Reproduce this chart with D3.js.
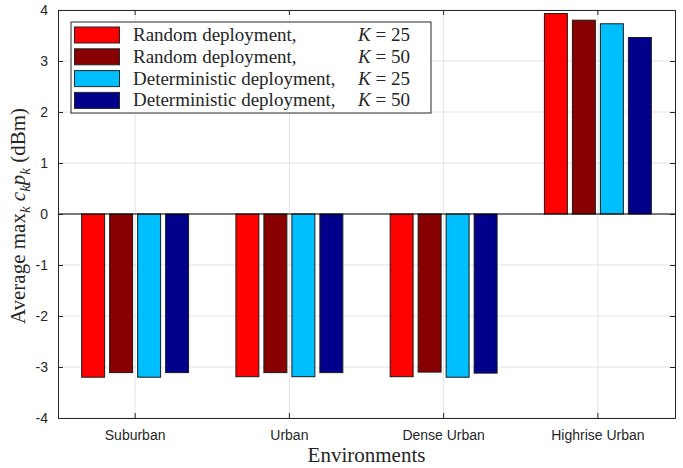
<!DOCTYPE html>
<html>
<head>
<meta charset="utf-8">
<script src="https://cdn.jsdelivr.net/npm/d3@7"></script>
<style>
  body { margin: 0; background: #fff; }
  svg { display: block; }
  .tick text { font-family: "Liberation Sans", Arial, sans-serif; font-size: 14px; fill: #262626; }
  .serif { font-family: "Liberation Serif", "Times New Roman", serif; fill: #262626; }
</style>
</head>
<body>
<div id="chart"></div>
<script>
const WIDTH = 683
const HEIGHT = 468

// data
const environments = ['Suburban', 'Urban', 'Dense Urban', 'Highrise Urban']
const seriesNames = ['Random deployment,', 'Random deployment,', 'Deterministic deployment,', 'Deterministic deployment,']
const seriesK = [25, 50, 25, 50]
const seriesColors = ['#ff0000', '#880000', '#00bfff', '#00008b']
const randomK25 = [-3.20, -3.19, -3.19, 3.93]
const randomK50 = [-3.11, -3.11, -3.10, 3.80]
const detK25 = [-3.20, -3.19, -3.20, 3.73]
const detK50 = [-3.11, -3.11, -3.12, 3.46]
const seriesValues = [randomK25, randomK50, detK25, detK50]
const yTicks = [-4, -3, -2, -1, 0, 1, 2, 3, 4]

const margin = { top: 10, right: 8, bottom: 50, left: 58 }
const plotW = WIDTH - margin.left - margin.right
const plotH = HEIGHT - margin.top - margin.bottom

const svg = d3.select('#chart').append('svg').attr('width', WIDTH).attr('height', HEIGHT)
const g = svg.append('g').attr('transform', `translate(${margin.left},${margin.top})`)

const x0 = d3.scaleBand().domain(environments).range([0, plotW]).padding(0)
const x1 = d3.scaleBand().domain(d3.range(seriesValues.length))
    .range([0, x0.bandwidth()]).paddingInner(0.18).paddingOuter(0.845)
const y = d3.scaleLinear().domain([-4, 4]).range([plotH, 0])

// grid
g.append('g').selectAll('line').data(yTicks).enter().append('line')
    .attr('x1', 0).attr('x2', plotW)
    .attr('y1', d => y(d)).attr('y2', d => y(d))
    .attr('stroke', '#e3e3e3').attr('stroke-width', 1)
g.append('g').selectAll('line').data(environments).enter().append('line')
    .attr('x1', d => x0(d) + x0.bandwidth() / 2).attr('x2', d => x0(d) + x0.bandwidth() / 2)
    .attr('y1', 0).attr('y2', plotH)
    .attr('stroke', '#e3e3e3').attr('stroke-width', 1)

// bars
const groups = g.append('g').selectAll('g').data(environments).enter().append('g')
    .attr('transform', d => `translate(${x0(d)},0)`)
groups.selectAll('rect')
    .data((d, i) => seriesValues.map((vals, s) => ({ s: s, v: vals[i] })))
    .enter().append('rect')
    .attr('x', d => x1(d.s))
    .attr('width', x1.bandwidth())
    .attr('y', d => y(Math.max(0, d.v)))
    .attr('height', d => Math.abs(y(d.v) - y(0)))
    .attr('fill', d => seriesColors[d.s])
    .attr('stroke', '#1a1a1a').attr('stroke-width', 1)

// baseline
g.append('line').attr('x1', 0).attr('x2', plotW).attr('y1', y(0)).attr('y2', y(0))
    .attr('stroke', '#000').attr('stroke-width', 1)

// axes
const yAxis = g.append('g').call(d3.axisLeft(y).tickValues(yTicks).tickSize(-5).tickPadding(10)
    .tickFormat(d => String(d)))
const yAxisR = g.append('g').attr('transform', `translate(${plotW},0)`)
    .call(d3.axisRight(y).tickValues(yTicks).tickSize(-5).tickFormat(''))
const xAxis = g.append('g').attr('transform', `translate(0,${plotH})`)
    .call(d3.axisBottom(x0).tickSize(-5).tickPadding(12))
const xAxisT = g.append('g')
    .call(d3.axisTop(x0).tickSize(-5).tickFormat(''))
;[yAxis, yAxisR, xAxis, xAxisT].forEach(a => {
    a.select('.domain').attr('stroke', '#262626')
    a.selectAll('.tick line').attr('stroke', '#262626')
})
yAxis.selectAll('.tick text').attr('dy', '0.35em')

// axis labels
svg.append('text').attr('class', 'serif')
    .attr('x', margin.left + plotW / 2).attr('y', 462)
    .attr('text-anchor', 'middle').attr('font-size', 21)
    .text('Environments')

const yl = svg.append('text').attr('class', 'serif')
    .attr('transform', `translate(25,${margin.top + plotH / 2 + 2}) rotate(-90)`)
    .attr('text-anchor', 'middle').attr('font-size', 21)
yl.append('tspan').text('Average max')
yl.append('tspan').attr('font-style', 'italic').attr('font-size', 15).attr('dy', 5).text('k')
yl.append('tspan').attr('font-style', 'italic').attr('dy', -5).text(' c')
yl.append('tspan').attr('font-style', 'italic').attr('font-size', 15).attr('dy', 5).text('k')
yl.append('tspan').attr('font-style', 'italic').attr('dy', -5).text('p')
yl.append('tspan').attr('font-style', 'italic').attr('font-size', 15).attr('dy', 5).text('k')
yl.append('tspan').attr('dy', -5).text('  (dBm)')

// legend
const legend = svg.append('g').attr('transform', 'translate(71,22)')
legend.append('rect').attr('width', 360).attr('height', 91)
    .attr('fill', '#fff').attr('stroke', '#262626').attr('stroke-width', 1)
const rows = legend.selectAll('g.row').data(seriesNames).enter().append('g')
    .attr('class', 'row')
    .attr('transform', (d, i) => `translate(0,${13 + i * 21.8})`)
rows.append('rect').attr('x', 3.5).attr('y', -8).attr('width', 45).attr('height', 16)
    .attr('fill', (d, i) => seriesColors[i]).attr('stroke', '#262626')
rows.append('text').attr('class', 'serif').attr('x', 62).attr('y', 6)
    .attr('font-size', 19).text(d => d)
const kt = rows.append('text').attr('class', 'serif').attr('x', 287).attr('y', 6).attr('font-size', 19)
kt.append('tspan').attr('font-style', 'italic').text('K')
kt.append('tspan').text((d, i) => ' = ' + seriesK[i])
</script>
</body>
</html>
